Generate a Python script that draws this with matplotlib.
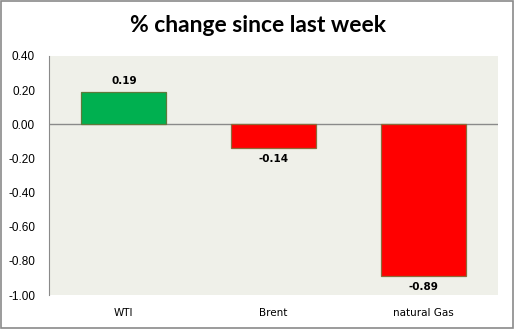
import matplotlib.pyplot as plt
from matplotlib.patches import Rectangle

categories = ["WTI", "Brent", "natural Gas"]
values = [0.19, -0.14, -0.89]
labels = ["0.19", "-0.14", "-0.89"]
colors = ["#00B050", "#FF0000", "#FF0000"]
edges = ["#5E7A3A", "#8C6A3A", "#8C6A3A"]
yticks = [0.40, 0.20, 0.00, -0.20, -0.40, -0.60, -0.80, -1.00]

fig = plt.figure(figsize=(5.15, 3.29), dpi=100)
ax = fig.add_axes([49/515, 1 - 295/329, 449/515, 239/329])
ax.set_facecolor("#EFF0E9")

x = range(len(categories))
ax.bar(x, values, width=0.57, color=colors, edgecolor=edges, linewidth=0.9, zorder=3)
ax.axhline(0, color="#8A8A8A", linewidth=1, zorder=2)

for i, v in enumerate(values):
    if v >= 0:
        ax.text(i, v + 0.035, labels[i], ha="center", va="bottom",
                fontsize=7.5, fontweight="bold", family="DejaVu Sans")
    else:
        ax.text(i, v - 0.035, labels[i], ha="center", va="top",
                fontsize=7.5, fontweight="bold", family="DejaVu Sans")

ax.set_xlim(-0.5, 2.5)
ax.set_ylim(-1.0, 0.4)
ax.set_yticks(yticks)
ax.set_yticklabels([f"{t:.2f}" for t in yticks], family="Liberation Sans", fontsize=8.5)
ax.set_xticks(list(x))
ax.set_xticklabels(categories, family="DejaVu Sans", fontsize=7.5)
ax.tick_params(axis="y", length=0, pad=10)
ax.tick_params(axis="x", length=0, pad=9)
for s in ["top", "right", "bottom"]:
    ax.spines[s].set_visible(False)
ax.spines["left"].set_color("#8A8A8A")

fig.text(0.5, 1 - 26/329, "% change since last week", ha="center", va="center",
         fontsize=16.5, fontweight="bold", family="Lato")

fig.patches.append(Rectangle((0.002, 0.003), 0.995, 0.994, transform=fig.transFigure,
                             fill=False, edgecolor="#8A8A8A", linewidth=1.2))

fig.savefig("out.png", dpi=100)
